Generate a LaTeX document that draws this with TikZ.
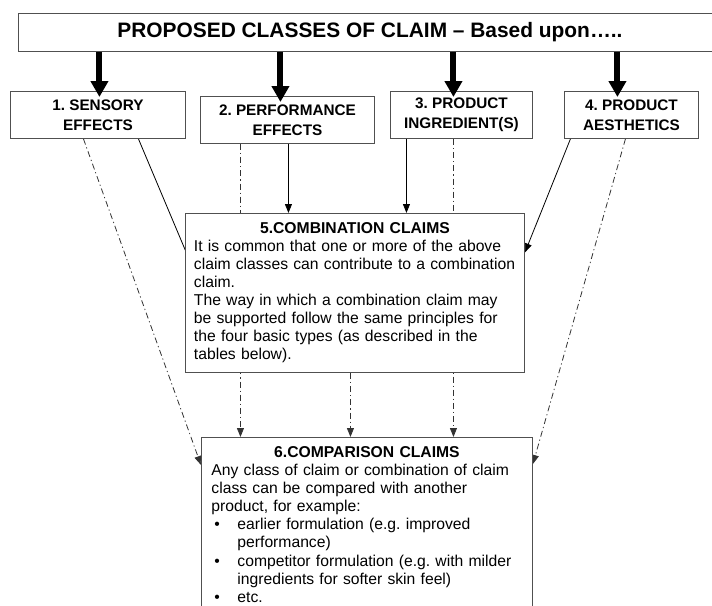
\documentclass[tikz,border=0pt]{standalone}
\usepackage{fontspec}
\setmainfont{Liberation Sans}
\usepackage{tikz}
\usetikzlibrary{arrows.meta, positioning, backgrounds}
\definecolor{frame}{HTML}{505050}
\frenchspacing

\begin{document}
\begin{tikzpicture}[
  x=1pt, y=-1pt,
  titlebox/.style={rectangle, draw=frame, line width=0.9pt, fill=white, align=center, inner sep=0pt, font=\bfseries\fontsize{20.9}{24}\selectfont},
  classbox/.style={rectangle, draw=frame, line width=0.9pt, fill=white, align=center, inner sep=0pt, font=\bfseries\fontsize{15.3}{20}\selectfont},
  textbox/.style={rectangle, draw=frame, line width=0.9pt, fill=white, align=left, inner ysep=9pt, font=\fontsize{15.7}{18}\selectfont},
  bigarrow/.style={line width=6pt, -{Triangle[width=17pt,length=16pt]}, shorten >=-6pt},
  arrow/.style={line width=0.8pt, -{Triangle[width=7pt,length=9pt]}},
  dasharrow/.style={arrow, dash pattern=on 6pt off 3pt on 1.2pt off 3pt, black!80}
]
\useasboundingbox (0,0) rectangle (712,605);
\clip (0,0) rectangle (712,605);

% Title
\node[titlebox, anchor=north west, minimum width=703pt, minimum height=38pt] (title) at (18,13) {PROPOSED CLASSES OF CLAIM – Based upon…..};

% The four basic classes
\node[classbox, anchor=north west, minimum width=175pt, minimum height=47pt] (sensory) at (10,91) {1. SENSORY\\EFFECTS};
\node[classbox, anchor=north west, minimum width=174pt, minimum height=47pt] (performance) at (200,96) {2. PERFORMANCE\\EFFECTS};
\node[classbox, anchor=north west, minimum width=142pt, minimum height=47pt] (ingredient) at (390,91) {3. PRODUCT\\INGREDIENT(S)};
\node[classbox, anchor=north west, minimum width=134pt, minimum height=47pt] (aesthetic) at (564,91) {4. PRODUCT\\AESTHETICS};

% Combination claims
\node[textbox, anchor=north west, text width=322pt, inner xsep=8.5pt, minimum height=159pt] (comb) at (185,213) {{\centering\bfseries 5.COMBINATION CLAIMS\par}It is common that one or more of the above\\claim classes can contribute to a combination\\claim.\\The way in which a combination claim may\\be supported follow the same principles for\\the four basic types (as described in the\\tables below).};

% Comparison claims (runs off the page)
\node[textbox, anchor=north west, text width=311pt, inner xsep=10pt, font=\fontsize{15.7}{18.1}\selectfont] (comp) at (201,437) {{\centering\bfseries 6.COMPARISON CLAIMS\par}Any class of claim or combination of claim\\class can be compared with another\\product, for example:\\\hspace*{3pt}\makebox[23pt][l]{\textbullet}earlier formulation (e.g. improved\\\hspace*{26pt}performance)\\\hspace*{3pt}\makebox[23pt][l]{\textbullet}competitor formulation (e.g. with milder\\\hspace*{26pt}ingredients for softer skin feel)\\\hspace*{3pt}\makebox[23pt][l]{\textbullet}etc.\rule[-30pt]{0pt}{30pt}};

% Bold arrows
\draw[bigarrow] ([xshift=1.5pt]sensory.north |- title.south) -- ([xshift=1.5pt]sensory.north);
\draw[bigarrow] ([xshift=-7pt]performance.north |- title.south) -- ([xshift=-7pt]performance.north);
\draw[bigarrow] ([xshift=-8pt]ingredient.north |- title.south) -- ([xshift=-8pt]ingredient.north);
\draw[bigarrow] ([xshift=-14pt]aesthetic.north |- title.south) -- ([xshift=-14pt]aesthetic.north);

% Connectors (behind the boxes)
\begin{pgfonlayer}{background}
\draw[arrow] ([xshift=40.5pt]sensory.south) -- ([xshift=8pt,yshift=24.5pt]comb.west);
\draw[dasharrow] ([xshift=-14.5pt]sensory.south) -- ([yshift=-28pt]comp.north west);
\draw[dasharrow] ([xshift=-47pt]performance.south) -- ([xshift=-47pt]performance.south |- comp.north);
\draw[arrow] ([xshift=1pt]performance.south) -- ([xshift=1pt]performance.south |- comb.north);
\draw[arrow] ([xshift=-55pt]ingredient.south) -- ([xshift=-55pt]ingredient.south |- comb.north);
\draw[dasharrow] ([xshift=-8pt]ingredient.south) -- ([xshift=-8pt]ingredient.south |- comp.north);
\draw[arrow] ([xshift=-61pt]aesthetic.south) -- ([yshift=40.5pt]comb.east);
\draw[dasharrow] ([xshift=-6pt]aesthetic.south) -- ([yshift=-27pt]comp.north east);
\draw[dasharrow] ([xshift=-4.5pt]comb.south) -- ([xshift=-4.5pt]comb.south |- comp.north);
\end{pgfonlayer}

\end{tikzpicture}
\end{document}
